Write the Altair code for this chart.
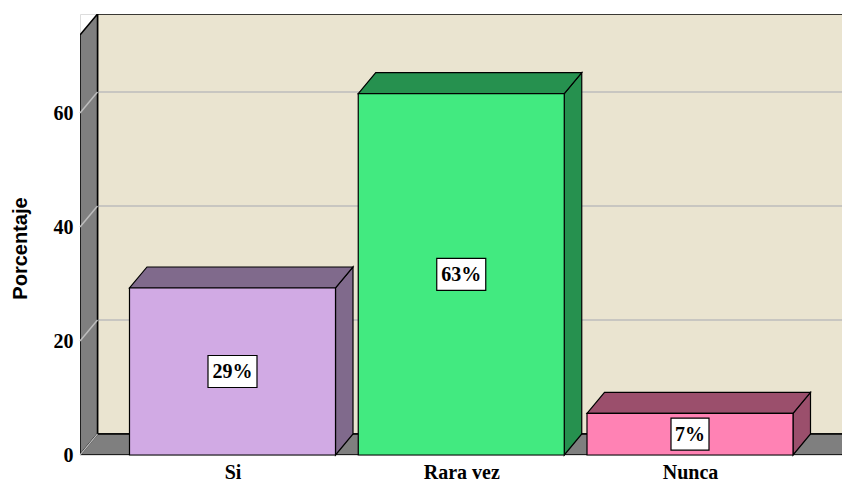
import json
import altair as alt
import pandas as pd

# ---------------- data ----------------
categories = ["Si", "Rara vez", "Nunca"]
values = [29.3, 63.4, 7.3]
front_colors = ["#D1AAE4", "#42EA80", "#FF82B4"]
side_colors = ["#806A8C", "#26914F", "#9B4F6C"]
y_ticks = [0, 20, 40, 60]
y_title = "Porcentaje"

# ---------------- layout constants (px) ----------------
PX_X = 228.75          # pixels per category step
PX_Y = 5.7             # pixels per percentage point
W, H = 762, 441        # plot area
XL = -152.5 / PX_X     # left edge of the front plane, in category units
XR = XL + W / PX_X
YMAX = H / PX_Y
DX = 17.5 / PX_X       # 3D depth, horizontal
DY = 21 / PX_Y         # 3D depth, vertical
HALF = 103 / PX_X      # half bar width
FLOOR_R = XL + 762 / PX_X

WALL = "#EAE4D0"
GRAY = "#7F7F7F"
GRID = "#BDBDBD"

xs = alt.Scale(domain=[XL, XR], nice=False, zero=False)
ys = alt.Scale(domain=[0, YMAX], nice=False, zero=False)

XAXIS = alt.Axis(
    values=[0, 1, 2], labelExpr=json.dumps(categories) + "[datum.value]",
    domain=False, ticks=False, tickSize=0, grid=False, labelPadding=23,
    labelBaseline="alphabetic", labelFont="Liberation Serif", labelFontWeight="bold",
    labelFontSize=20, labelColor="black", title=None)
YAXIS = alt.Axis(
    values=y_ticks, domain=False, ticks=False, tickSize=0, grid=False, labelPadding=7,
    labelFont="Liberation Serif", labelFontWeight="bold", labelFontSize=20,
    labelColor="black", labelBaseline="middle",
    title=y_title, titleFont="Liberation Sans", titleFontWeight="bold", titleFontSize=20,
    titleColor="black", titleAngle=270, titleAlign="center", titleBaseline="middle",
    titleX=-60, titleY=234)


def X(f="x"):
    return alt.X(f"{f}:Q", scale=xs, axis=XAXIS)


def Y(f="y"):
    return alt.Y(f"{f}:Q", scale=ys, axis=YAXIS)


# ---------------- walls ----------------
back = alt.Chart(pd.DataFrame({"x": [XL + DX], "x2": [FLOOR_R + DX], "y": [DY], "y2": [YMAX]})).mark_rect(
    fill=WALL, stroke="black", strokeWidth=1.5, clip=True
).encode(x=X(), x2="x2:Q", y=Y(), y2="y2:Q")

grid_rows = []
for t in y_ticks[1:]:
    grid_rows.append({"x": XL + DX, "x2": FLOOR_R + DX, "y": t + DY, "y2": t + DY})
    grid_rows.append({"x": XL, "x2": XL + DX, "y": t, "y2": t + DY})
grid = alt.Chart(pd.DataFrame([r for r in grid_rows if r["x"] != XL])).mark_rule(
    color=GRID, strokeWidth=1.5, clip=True).encode(x=X(), x2="x2:Q", y=Y(), y2="y2:Q")

left_wall_df = pd.DataFrame({"x": [XL, XL + DX], "y": [0, DY], "y2": [YMAX - DY, YMAX]})
left_wall = alt.Chart(left_wall_df).mark_area(fill=GRAY, stroke="black", strokeWidth=1.5, clip=True).encode(
    x=X(), y=Y(), y2="y2:Q"
)
left_grid = alt.Chart(pd.DataFrame([r for r in grid_rows if r["x"] == XL])).mark_rule(
    color=GRID, strokeWidth=1.5).encode(x=X(), x2="x2:Q", y=Y(), y2="y2:Q")

floor_df = pd.DataFrame({
    "x": [XL, XL + DX, FLOOR_R, FLOOR_R + DX],
    "y": [0, 0, 0, DY],
    "y2": [0, DY, DY, DY],
})
floor = alt.Chart(floor_df).mark_area(fill=GRAY, stroke="black", strokeWidth=1.5, clip=True).encode(
    x=X(), y=Y(), y2="y2:Q"
)
floor_edge = alt.Chart(pd.DataFrame([{"x": XL, "x2": XL + DX, "y": 0, "y2": DY}])).mark_rule(
    color=GRID, strokeWidth=1.2).encode(x=X(), x2="x2:Q", y=Y(), y2="y2:Q")

# ---------------- bars ----------------
front_rows, side_rows, top_rows, label_rows = [], [], [], []
for i, (c, v) in enumerate(zip(categories, values)):
    L, R = i - HALF, i + HALF
    front_rows.append({"cat": c, "x": L, "x2": R, "y": 0, "y2": v, "fill": front_colors[i]})
    side_rows += [
        {"cat": c, "x": R, "y": 0, "y2": v, "fill": side_colors[i]},
        {"cat": c, "x": R + DX, "y": DY, "y2": v + DY, "fill": side_colors[i]},
    ]
    top_rows += [
        {"cat": c, "x": L, "y": v, "y2": v, "fill": side_colors[i]},
        {"cat": c, "x": L + DX, "y": v, "y2": v + DY, "fill": side_colors[i]},
        {"cat": c, "x": R, "y": v, "y2": v + DY, "fill": side_colors[i]},
        {"cat": c, "x": R + DX, "y": v + DY, "y2": v + DY, "fill": side_colors[i]},
    ]
    txt = f"{round(v)}%"
    bw = (16 + 11 * len(txt)) / 2 / PX_X
    bh = 16 / PX_Y
    label_rows.append({"cat": c, "xc": i, "yc": v / 2, "x": i - bw, "x2": i + bw,
                       "y": v / 2 - bh, "y2": v / 2 + bh, "txt": txt})

side = alt.Chart(pd.DataFrame(side_rows)).mark_area(stroke="black", strokeWidth=1.2).encode(
    x=X(), y=Y(), y2="y2:Q", fill=alt.Fill("fill:N", scale=None), detail="cat:N"
)
top = alt.Chart(pd.DataFrame(top_rows)).mark_area(stroke="black", strokeWidth=1.2).encode(
    x=X(), y=Y(), y2="y2:Q", fill=alt.Fill("fill:N", scale=None), detail="cat:N"
)
front = alt.Chart(pd.DataFrame(front_rows)).mark_rect(stroke="black", strokeWidth=1.2).encode(
    x=X(), x2="x2:Q", y=Y(), y2="y2:Q", fill=alt.Fill("fill:N", scale=None)
)

labels_df = pd.DataFrame(label_rows)
boxes = alt.Chart(labels_df).mark_rect(fill="white", stroke="black", strokeWidth=1.2).encode(
    x=X(), x2="x2:Q", y=Y(), y2="y2:Q"
)
texts = alt.Chart(labels_df).mark_text(
    font="Liberation Serif", fontWeight="bold", fontSize=20, color="black",
    align="center", baseline="middle", dy=1
).encode(x=X("xc"), y=Y("yc"), text="txt:N")

chart = alt.layer(
    back, grid, left_wall, left_grid, floor, floor_edge, side, top, front, boxes, texts
).properties(
    width=W, height=H,
    autosize=alt.AutoSizeParams(type="none"),
    padding={"left": 72, "top": 6, "right": 0, "bottom": 26},
).configure_view(stroke=None).configure(background="white")

chart.save("out.html", embed_options={"renderer": "svg", "actions": False})
